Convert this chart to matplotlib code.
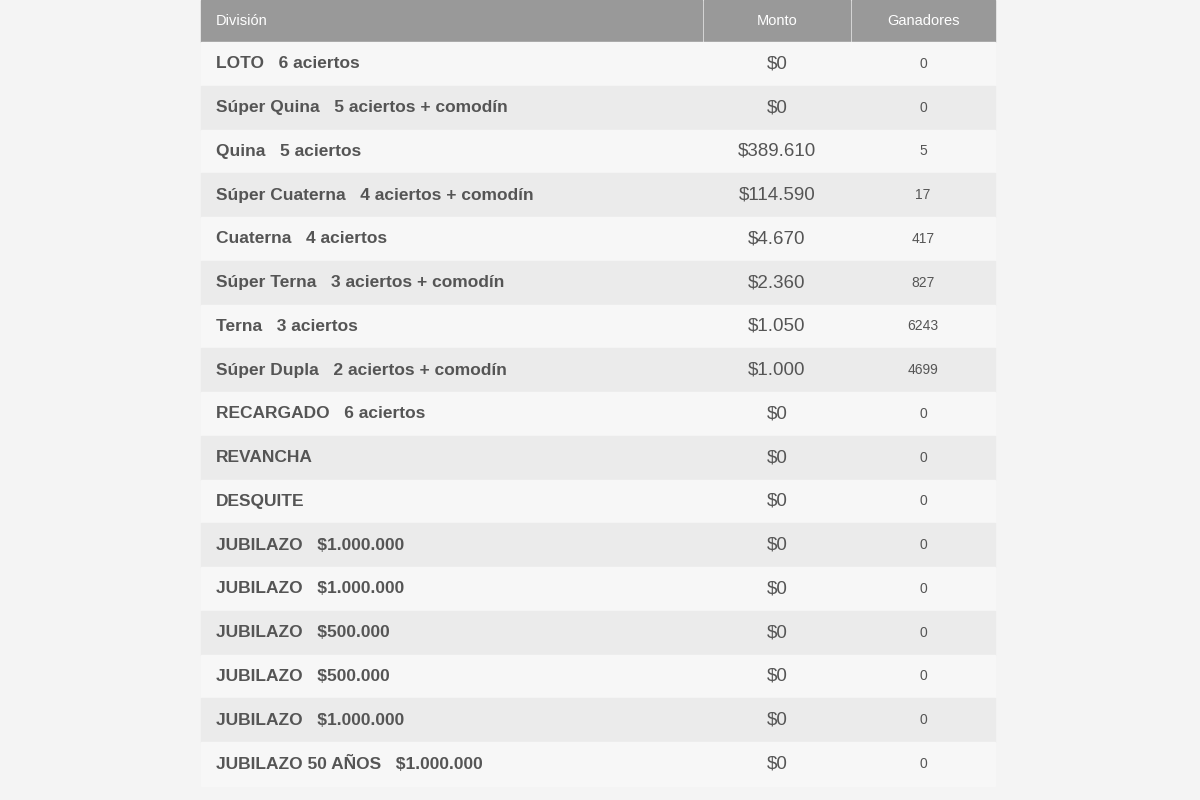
import matplotlib.pyplot as plt
from matplotlib.patches import Rectangle

plt.rcParams["font.family"] = ["Liberation Sans", "DejaVu Sans"]

headers = ["División", "Monto", "Ganadores"]
divisions = ["LOTO", "Súper Quina", "Quina", "Súper Cuaterna", "Cuaterna", "Súper Terna",
             "Terna", "Súper Dupla", "RECARGADO", "REVANCHA", "DESQUITE", "JUBILAZO",
             "JUBILAZO", "JUBILAZO", "JUBILAZO", "JUBILAZO", "JUBILAZO 50 AÑOS"]
details = ["6 aciertos", "5 aciertos + comodín", "5 aciertos", "4 aciertos + comodín",
           "4 aciertos", "3 aciertos + comodín", "3 aciertos", "2 aciertos + comodín",
           "6 aciertos", "", "", "$1.000.000", "$1.000.000", "$500.000", "$500.000",
           "$1.000.000", "$1.000.000"]
montos = ["$0", "$0", "$389.610", "$114.590", "$4.670", "$2.360", "$1.050", "$1.000",
          "$0", "$0", "$0", "$0", "$0", "$0", "$0", "$0", "$0"]
ganadores = ["0", "0", "5", "17", "417", "827", "6243", "4699",
             "0", "0", "0", "0", "0", "0", "0", "0", "0"]

fig = plt.figure(figsize=(12, 8), dpi=100)
fig.patch.set_facecolor("#f4f4f4")
ax = fig.add_axes([0, 0, 1, 1])
ax.set_xlim(0, 1200)
ax.set_ylim(800, 0)
ax.axis("off")

left, right = 201, 995
col1, col2 = 703, 851
head_h = 42
row_h = 43.75
txt = "#555555"

# header
ax.add_patch(Rectangle((left, 0), col1 - left - 1, head_h, color="#999999"))
ax.add_patch(Rectangle((col1 + 1, 0), col2 - col1 - 2, head_h, color="#999999"))
ax.add_patch(Rectangle((col2 + 1, 0), right - col2 - 1, head_h, color="#999999"))
ax.text(216, 21, headers[0], color="white", fontsize=10.5, va="center")
ax.text((col1 + col2) / 2, 21, headers[1], color="white", fontsize=10.5, va="center", ha="center")
ax.text((col2 + right) / 2, 21, headers[2], color="white", fontsize=10.5, va="center", ha="center")

for i, (d, det, m, g) in enumerate(zip(divisions, details, montos, ganadores)):
    y0 = head_h + i * row_h
    yc = y0 + row_h / 2
    ax.add_patch(Rectangle((left, y0), right - left, row_h,
                           color="#f7f7f7" if i % 2 == 0 else "#ebebeb"))
    label = d + ("   " + det if det else "")
    ax.text(216, yc, label, color=txt, fontsize=12.5, fontweight="bold", va="center")
    ax.text((col1 + col2) / 2, yc, m, color=txt, fontsize=13.5, va="center", ha="center")
    ax.text((col2 + right) / 2, yc, g, color=txt, fontsize=10, va="center", ha="center")

fig.savefig("out.png", dpi=100, facecolor=fig.get_facecolor())
